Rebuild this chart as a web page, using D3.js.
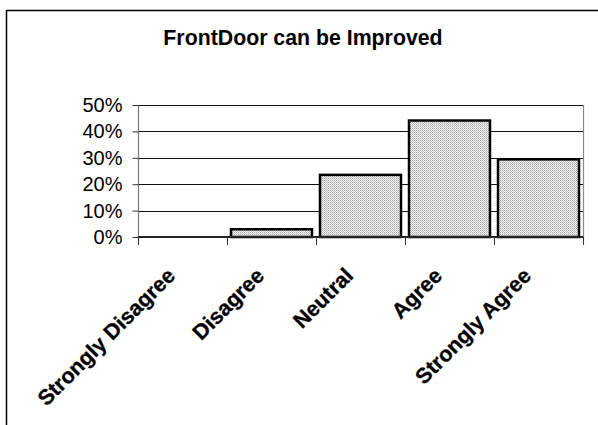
<!DOCTYPE html>
<html>
<head>
<meta charset="utf-8">
<script src="https://cdn.jsdelivr.net/npm/d3@7"></script>
<style>
  html, body { margin: 0; padding: 0; background: #fff; }
  svg { display: block; }
  text { font-family: "Liberation Sans", Arial, sans-serif; }
</style>
</head>
<body>
<svg id="chart" width="598" height="425"></svg>
<script>
// Survey responses: "FrontDoor can be Improved"
const categories = ["Strongly Disagree", "Disagree", "Neutral", "Agree", "Strongly Agree"];
const shares = [0, 1 / 34, 8 / 34, 15 / 34, 10 / 34];
const yTicks = [0, 0.1, 0.2, 0.3, 0.4, 0.5];
const title = "FrontDoor can be Improved";

const svg = d3.select("#chart");
const W = 598, H = 425;
const plot = { left: 138, right: 583, top: 105, bottom: 237 };

// Dotted fill for bars
const defs = svg.append("defs");
const pat = defs.append("pattern")
  .attr("id", "dots").attr("patternUnits", "userSpaceOnUse")
  .attr("width", 2).attr("height", 2);
pat.append("rect").attr("width", 2).attr("height", 2).attr("fill", "#f4f4f4");
pat.append("rect").attr("width", 1).attr("height", 1).attr("fill", "#a8a8a8");
pat.append("rect").attr("x", 1).attr("y", 1).attr("width", 1).attr("height", 1).attr("fill", "#c4c4c4");

// Outer frame (top and left edges)
svg.append("path")
  .attr("d", `M6.5,${H}V10.5H${W}`)
  .attr("fill", "none").attr("stroke", "#000").attr("stroke-width", 1.5);

// Title
svg.append("text")
  .attr("x", 303).attr("y", 45)
  .attr("text-anchor", "middle")
  .attr("font-size", 21.3).attr("font-weight", "bold")
  .attr("fill", "#000")
  .text(title);

const x = d3.scaleBand()
  .domain(categories)
  .range([plot.left, plot.right])
  .paddingInner(0.09)
  .paddingOuter(0.045);

const y = d3.scaleLinear()
  .domain([0, 0.5])
  .range([plot.bottom, plot.top]);

// Horizontal gridlines
svg.append("g")
  .selectAll("line")
  .data(yTicks.filter(t => t > 0))
  .join("line")
  .attr("x1", plot.left).attr("x2", plot.right)
  .attr("y1", d => Math.round(y(d)) + 0.5).attr("y2", d => Math.round(y(d)) + 0.5)
  .attr("stroke", "#111").attr("stroke-width", 1);

// Right border of plot area
svg.append("line")
  .attr("x1", plot.right + 0.5).attr("x2", plot.right + 0.5)
  .attr("y1", y(0.5)).attr("y2", plot.bottom + 5)
  .attr("stroke", "#888").attr("stroke-width", 1.2);

// Y axis
const yAxis = svg.append("g")
  .attr("transform", `translate(${plot.left + 0.5},0)`)
  .call(d3.axisLeft(y).tickValues(yTicks).tickFormat(d3.format(".0%")).tickSize(6).tickPadding(10));
yAxis.select(".domain").attr("stroke", "#777").attr("stroke-width", 1.2)
  .attr("d", `M0,${y(0.5)}V${plot.bottom + 8}`);
yAxis.selectAll(".tick line").attr("stroke", "#333");
yAxis.selectAll(".tick text")
  .attr("font-size", 20).attr("fill", "#000")
  .attr("font-family", "'Liberation Sans', Arial, sans-serif");

// Bars
svg.append("g")
  .selectAll("rect")
  .data(categories.map((c, i) => ({ c, v: shares[i] })).filter(d => d.v > 0))
  .join("rect")
  .attr("x", d => x(d.c))
  .attr("y", d => y(d.v))
  .attr("width", x.bandwidth())
  .attr("height", d => y(0) - y(d.v))
  .attr("fill", "url(#dots)")
  .attr("stroke", "#000").attr("stroke-width", 2.5);

// Category axis: baseline and separator ticks
const step = x.step();
const bounds = categories.map(c => x(c) - step * x.paddingInner() / 2);
bounds.push(plot.right);
svg.append("line")
  .attr("x1", plot.left).attr("x2", plot.right)
  .attr("y1", y(0)).attr("y2", y(0))
  .attr("stroke", "#222").attr("stroke-width", 2);
svg.append("g")
  .selectAll("line")
  .data(bounds)
  .join("line")
  .attr("x1", d => Math.round(d) + 0.5).attr("x2", d => Math.round(d) + 0.5)
  .attr("y1", y(0)).attr("y2", y(0) + 8)
  .attr("stroke", "#333").attr("stroke-width", 1);

// Rotated category labels
svg.append("g")
  .selectAll("text")
  .data(categories)
  .join("text")
  .attr("transform", d => `translate(${x(d) + x.bandwidth() / 2 - 6},277) rotate(-45)`)
  .attr("text-anchor", "end")
  .attr("font-size", 21.5).attr("font-weight", "bold")
  .attr("stroke", "#000").attr("stroke-width", 0.3)
  .attr("fill", "#000")
  .text(d => d);
</script>
</body>
</html>
